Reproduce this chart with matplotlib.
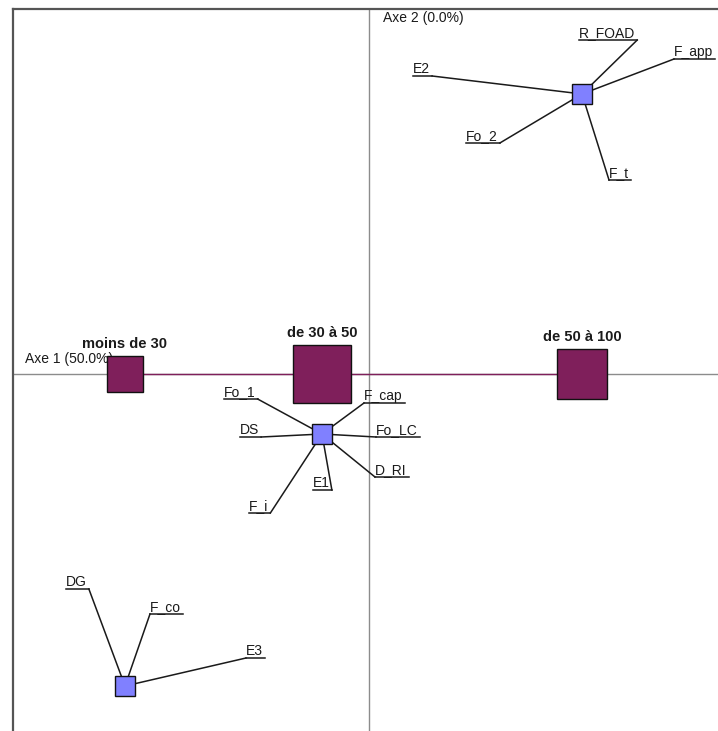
import matplotlib
matplotlib.use('Agg')
import matplotlib.pyplot as plt

plt.rcParams['font.family'] = ['Liberation Sans', 'DejaVu Sans']

# modalites actives (coordonnees Axe 1 / Axe 2)
categories = ['moins de 30', 'de 30 à 50', 'de 50 à 100']
cat_axe1 = [-2.44, -0.47, 2.13]
cat_axe2 = [0.0, 0.0, 0.0]
cat_poids = [36, 58, 50]

# centres des groupes de variables supplementaires
grp_axe1 = [2.13, -0.47, -2.44]
grp_axe2 = [2.80, -0.60, -3.12]

# variables rattachees a chaque groupe
sup_labels = ['R_FOAD', 'F_app', 'E2', 'Fo_2', 'F_t',
              'Fo_1', 'DS', 'F_cap', 'Fo_LC', 'D_RI', 'E1', 'F_i',
              'DG', 'F_co', 'E3']
sup_group = [0, 0, 0, 0, 0, 1, 1, 1, 1, 1, 1, 1, 2, 2, 2]

axe_labels = ['Axe 1 (50.0%)', 'Axe 2 (0.0%)']

# placement des etiquettes (pixels par rapport au centre du groupe) et cote du trait
label_dx = [-3, 92, -169, -116, 27, -98, -82, 42, 54, 53, -9, -73, -59, 25, 121]
label_dy = [-54, -35, -18, 49, 86, -35, 3, -31, 3, 43, 56, 79, -97, -72, -28]
label_side = ['r', 'l', 'r', 'r', 'l', 'r', 'r', 'l', 'l', 'l', 'r', 'r', 'r', 'l', 'l']

PX = 100.0  # pixels par unite
purple = '#7f1f5b'
blue = '#8080ff'
dark = '#1a1a1a'

fig = plt.figure(figsize=(7.18, 7.31), dpi=100)
ax = fig.add_axes([13 / 718, 0, 1 - 13 / 718, 1 - 9 / 731])
ax.set_xlim((13 - 369) / PX, (718 - 369) / PX)
ax.set_ylim((374 - 731) / PX, (374 - 9) / PX)
ax.set_xticks([])
ax.set_yticks([])
for s in ['right', 'bottom']:
    ax.spines[s].set_visible(False)
for s in ['left', 'top']:
    ax.spines[s].set_color('#555555')
    ax.spines[s].set_linewidth(1.6)

ax.axhline(0, color='#8c8c8c', lw=1, zorder=1)
ax.axvline(0, color='#8c8c8c', lw=1, zorder=1)

ax.text(-3.44, 0.11, axe_labels[0], fontsize=10, color=dark, va='baseline', zorder=2)
ax.text(0.14, 3.52, axe_labels[1], fontsize=10, color=dark, va='baseline', zorder=2)

# ligne reliant les modalites
order = sorted(range(len(categories)), key=lambda i: cat_axe1[i])
ax.plot([cat_axe1[i] for i in order], [cat_axe2[i] for i in order], color=purple, lw=1, zorder=2)

for name, x, y, p in zip(categories, cat_axe1, cat_axe2, cat_poids):
    ax.plot(x, y, marker='s', ms=p * 0.72, mfc=purple, mec='#111111', mew=1, zorder=5)
    ax.annotate(name, (x, y), xytext=(0, (p / 2 + 8) * 0.72), textcoords='offset points',
                ha='center', va='baseline', fontsize=10.5, fontweight='bold', color=dark)

ax.plot(grp_axe1, grp_axe2, ls='none', marker='s', ms=20 * 0.72, mfc=blue, mec='#111111', mew=1, zorder=5)

texts = []
for lab, g, dx, dy in zip(sup_labels, sup_group, label_dx, label_dy):
    tx = grp_axe1[g] + dx / PX
    ty = grp_axe2[g] - dy / PX
    texts.append(ax.text(tx, ty, lab, fontsize=10, color=dark, ha='left', va='bottom', zorder=3))

fig.canvas.draw()
r = fig.canvas.get_renderer()
inv = ax.transData.inverted()
for t, g, side in zip(texts, sup_group, label_side):
    bb = t.get_window_extent(r)
    x0 = inv.transform((bb.x0, bb.y0))[0]
    x1 = inv.transform((bb.x1 + 2, bb.y0))[0]
    y = t.get_position()[1]
    ax.plot([x0, x1], [y, y], color=dark, lw=1.1, zorder=3)
    xe = x1 if side == 'r' else x0
    ax.plot([xe, grp_axe1[g]], [y, grp_axe2[g]], color=dark, lw=1.1, zorder=3)

fig.savefig('out.png', dpi=100)
